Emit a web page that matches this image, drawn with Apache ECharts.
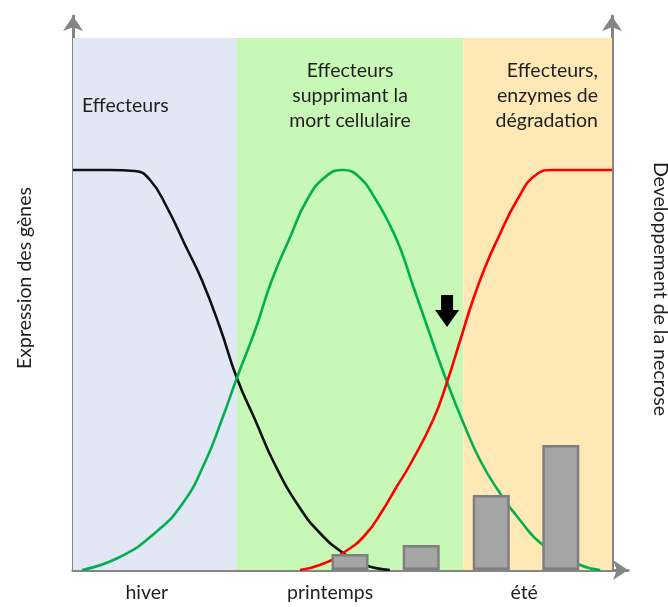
<!DOCTYPE html>
<html>
<head>
<meta charset="utf-8">
<script src="https://cdn.jsdelivr.net/npm/echarts@6/dist/echarts.min.js"></script>
<style>
  html, body { margin: 0; padding: 0; background: #fff; }
  #chart { width: 668px; height: 607px; }
</style>
</head>
<body>
<div id="chart"></div>
<script>
// Seasons along the time axis (0 = start of winter, 100 = end of summer)
const seasons = ['hiver', 'printemps', 'été'];
const seasonPos = [13.7, 47.7, 83.7];

// Phases shown as coloured bands behind the curves
const phaseLabels = ['Effecteurs', 'Effecteurs\nsupprimant la\nmort cellulaire', 'Effecteurs,\nenzymes de\ndégradation'];
const phaseBounds = [0, 30.4, 72.4, 100];
const phaseTop = 133;

// Gene expression curves: [time, relative expression]
const winterEffectors = [
  [0, 100], [6.9, 100], [11.5, 99.75], [14.3, 97.5], [17.4, 90.75], [20.8, 81.25],
  [23.9, 72.5], [27.3, 60.5], [30.4, 48], [33.8, 37.5], [37.5, 26.25], [42.1, 15.5],
  [45.8, 9.25], [50.1, 4.25], [54.2, 1.25], [58.8, 0]
];
const deathSuppressors = [
  [1.7, 0], [8.7, 3.25], [15.2, 9.25], [20.4, 16.75], [24.5, 27], [27.6, 37.5],
  [30.4, 48], [33.8, 60], [36.9, 72.5], [40.3, 83.25], [43.4, 92.5], [46.8, 98.25],
  [50.1, 100], [53.3, 98], [56.0, 93], [58.5, 87], [60.7, 80.5], [62.9, 71.75],
  [65.3, 62.5], [67.3, 54.75], [69.4, 47], [72.2, 37.5], [75.5, 27.5], [79.2, 19.25],
  [82.9, 12.5], [87.2, 6.25], [94.1, 1.25], [97.8, 0]
];
const degradationEffectors = [
  [42.1, 0], [45.8, 1.25], [50.1, 4.25], [54.2, 8.75], [57.5, 15], [59.9, 20.5],
  [62.5, 26.25], [66.8, 37.5], [69.4, 47], [71.8, 57.25], [74.2, 67.5], [76.4, 75.5],
  [78.7, 82.5], [82.4, 92.5], [86.1, 99], [88.9, 100], [100, 100]
];

// Necrosis development, sampled four times in spring and summer
const necrosisTime = [51.4, 64.6, 77.6, 90.5];
const necrosisLevel = [4, 6.25, 18.75, 31.25];

// Down arrow marking the switch point
const arrowAt = [69.4, 64.75];

const FONT = 'Lato';
const TEXT = '#1f1f1f';
const AXIS = '#858585';

const bandColors = ['#e1e7f4', '#c8f8b6', '#fde8b6'];
const bandLabelPos = [
  { position: 'insideTopLeft', offset: [9, 55], align: 'left' },
  { position: 'insideTop', offset: [0, 20], align: 'center' },
  { position: 'insideTopRight', offset: [-14, 20], align: 'right' }
];

const bands = phaseLabels.map((txt, i) => [
  {
    coord: [phaseBounds[i], 0],
    itemStyle: { color: bandColors[i] },
    label: {
      show: true,
      formatter: txt,
      position: bandLabelPos[i].position,
      offset: bandLabelPos[i].offset,
      distance: 0,
      align: bandLabelPos[i].align,
      fontFamily: FONT,
      fontSize: 19.5,
      lineHeight: 25,
      color: TEXT
    }
  },
  { coord: [phaseBounds[i + 1], phaseTop] }
]);

const curve = (name, data, color) => ({
  name,
  type: 'line',
  data,
  showSymbol: false,
  smooth: 0.5,
  lineStyle: { color, width: 2.6 },
  z: 3,
  silent: true
});

const chart = echarts.init(document.getElementById('chart'), null, { renderer: 'canvas' });

chart.setOption({
  animation: false,
  backgroundColor: '#ffffff',
  grid: { left: 73, right: 40, top: 16, bottom: 37 },
  xAxis: {
    type: 'value',
    min: 0,
    max: 102.97,
    axisLine: {
      show: true,
      lineStyle: { color: AXIS, width: 3 },
      symbol: ['none', 'arrow'],
      symbolSize: [15, 15]
    },
    axisTick: { show: false },
    splitLine: { show: false },
    axisLabel: {
      customValues: seasonPos,
      formatter: (v) => seasons[seasonPos.indexOf(v)] || '',
      margin: 13,
      fontFamily: FONT,
      fontSize: 19.5,
      color: TEXT
    }
  },
  yAxis: [
    {
      type: 'value',
      min: 0,
      max: 138.5,
      axisLine: {
        show: true,
        lineStyle: { color: AXIS, width: 3 },
        symbol: ['none', 'arrow'],
        symbolSize: [15, 15]
      },
      axisTick: { show: false },
      axisLabel: { show: false },
      splitLine: { show: false }
    },
    {
      type: 'value',
      position: 'right',
      offset: -16,
      min: 0,
      max: 138.5,
      axisLine: {
        show: true,
        onZero: false,
        lineStyle: { color: AXIS, width: 3 },
        symbol: ['none', 'arrow'],
        symbolSize: [15, 15]
      },
      axisTick: { show: false },
      axisLabel: { show: false },
      splitLine: { show: false }
    }
  ],
  graphic: [
    {
      type: 'text',
      x: 25, y: 278,
      rotation: Math.PI / 2,
      style: {
        text: 'Expression des gènes',
        align: 'center', verticalAlign: 'middle',
        fontFamily: FONT, fontSize: 19.5, fill: TEXT
      }
    },
    {
      type: 'text',
      x: 660, y: 289,
      rotation: -Math.PI / 2,
      style: {
        text: 'Developpement de la necrose',
        align: 'center', verticalAlign: 'middle',
        fontFamily: FONT, fontSize: 19.5, fill: TEXT
      }
    }
  ],
  series: [
    {
      name: 'phases',
      type: 'line',
      data: [],
      silent: true,
      z: 1,
      markArea: { silent: true, data: bands }
    },
    curve('Effecteurs (hiver)', winterEffectors, '#111111'),
    curve('Suppression de la mort cellulaire', deathSuppressors, '#00b050'),
    {
      ...curve('Dégradation', degradationEffectors, '#ff0000'),
      markPoint: {
        silent: true,
        symbol: 'path://M6,0 L18,0 L18,15 L24,15 L12,32 L0,15 L6,15 Z',
        symbolSize: [24, 32],
        itemStyle: { color: '#000000' },
        label: { show: false },
        data: [{ coord: arrowAt }]
      }
    },
    {
      name: 'Nécrose',
      type: 'bar',
      yAxisIndex: 1,
      data: necrosisTime.map((t, i) => [t, necrosisLevel[i]]),
      barWidth: 37,
      itemStyle: { color: '#a5a5a5', borderColor: '#7f7f7f', borderWidth: 2.5 },
      z: 4,
      silent: true
    }
  ]
});
</script>
</body>
</html>
